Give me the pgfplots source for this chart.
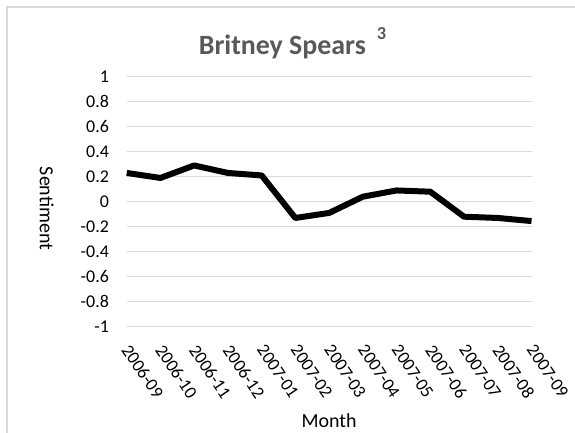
\documentclass[border=0pt]{standalone}
\usepackage{pgfplots}
\usepackage{pgfplotstable}
\pgfplotsset{compat=1.18}
\usepackage{fontspec}
\setmainfont{Carlito}

\definecolor{gridgray}{HTML}{D9D9D9}
\definecolor{titlegray}{HTML}{595959}

% Monthly sentiment score
\pgfplotstableread{
idx month sentiment
0  2006-09  0.23
1  2006-10  0.19
2  2006-11  0.29
3  2006-12  0.23
4  2007-01  0.21
5  2007-02 -0.13
6  2007-03 -0.09
7  2007-04  0.04
8  2007-05  0.09
9  2007-06  0.08
10 2007-07 -0.12
11 2007-08 -0.13
12 2007-09 -0.155
}\britney

\begin{document}
\begin{tikzpicture}
\useasboundingbox (0,0) rectangle (287.5bp,216.5bp);
% chart area frame
\draw[gridgray, line width=0.75bp] (3.4bp,-2bp) -- (3.4bp,213.1bp) -- (292bp,213.1bp);
\begin{axis}[
  at={(63.35bp,53.15bp)}, anchor=south west,
  scale only axis, width=202.4bp, height=125bp,
  xmin=0, xmax=12, ymin=-1, ymax=1,
  clip=false,
  axis line style={draw=none},
  major tick length=0pt,
  xtick={0,...,12},
  xticklabels from table={\britney}{month},
  ytick={-1,-0.8,-0.6,-0.4,-0.2,0,0.2,0.4,0.6,0.8,1},
  yticklabels={-1,-0.8,-0.6,-0.4,-0.2,0,0.2,0.4,0.6,0.8,1},
  ymajorgrids,
  major grid style={gridgray, line width=0.75bp},
  ticklabel style={font=\fontsize{9}{11}\selectfont, text=black},
  yticklabel style={anchor=east, inner sep=0pt, xshift=-8.7bp},
  xticklabel style={xshift=2.2bp, yshift=-8.0bp, rotate=-56, anchor=north west, inner sep=0pt},
  xlabel={Month},
  ylabel={Sentiment},
  title={Britney Spears\hspace{5.5bp}\raisebox{7.6bp}{\fontsize{9.2}{10}\selectfont 3}},
  every axis x label/.style={at={(axis description cs:0.5,-0.4024)}, anchor=base,
    font=\fontsize{10}{12}\selectfont, inner sep=0pt},
  every axis y label/.style={at={(axis description cs:-0.2142,0.4728)}, rotate=-90, anchor=base,
    font=\fontsize{10}{12}\selectfont, inner sep=0pt},
  every axis title/.style={at={(axis description cs:0.4096,1.0868)}, anchor=base,
    font=\bfseries\fontsize{14}{17}\selectfont, text=titlegray, inner sep=0pt},
]
\addplot[black, line width=3bp, line join=round] table[x=idx, y=sentiment] {\britney};
\end{axis}
\end{tikzpicture}
\end{document}
